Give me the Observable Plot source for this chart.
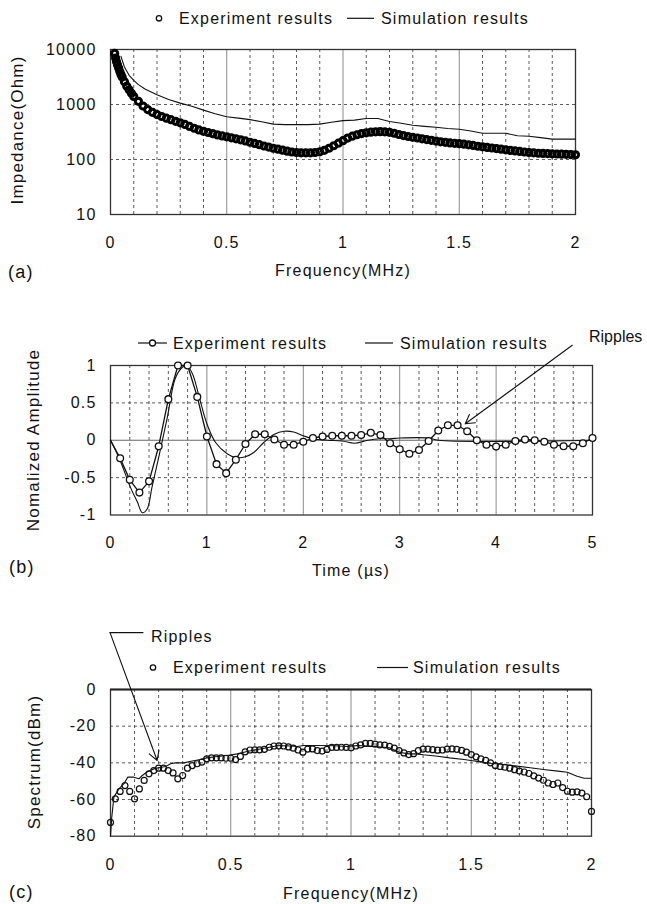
<!DOCTYPE html>
<html>
<head>
<meta charset="utf-8">
<script src="https://cdn.jsdelivr.net/npm/d3@7"></script>
<script src="https://cdn.jsdelivr.net/npm/@observablehq/plot@0.6"></script>
<style>
  html, body { margin: 0; padding: 0; background: #fff; }
  #page { position: relative; width: 647px; height: 904px; overflow: hidden; background: #fff; }
  #page > svg { position: absolute; left: 0; }
  #overlay { position: absolute; left: 0; top: 0; pointer-events: none; }
</style>
</head>
<body>
<div id="page"></div>
<script>
// ---------- (a) impedance vs frequency ----------
const freqA_exp = [0.018,0.022,0.026,0.03,0.035,0.04,0.045,0.05,0.06,0.07,0.08,0.09,0.1,
  0.12,0.14,0.16,0.18,0.2,0.22,0.24,0.26,0.28,0.3,0.32,0.34,0.36,0.38,0.4,0.42,0.44,0.46,0.48,
  0.5,0.52,0.54,0.56,0.58,0.6,0.62,0.64,0.66,0.68,0.7,0.72,0.74,0.76,0.78,0.8,0.82,0.84,0.86,0.88,
  0.9,0.92,0.94,0.96,0.98,1,1.02,1.04,1.06,1.08,1.1,1.12,1.14,1.16,1.18,1.2,1.22,1.24,1.26,1.28,
  1.3,1.32,1.34,1.36,1.38,1.4,1.42,1.44,1.46,1.48,1.5,1.52,1.54,1.56,1.58,1.6,1.62,1.64,1.66,1.68,
  1.7,1.72,1.74,1.76,1.78,1.8,1.82,1.84,1.86,1.88,1.9,1.92,1.94,1.96,1.98,2];
const impA_exp = [8500,7000,6000,5300,4600,4000,3500,3150,2600,2150,1850,1600,1400,
  1140,940,810,720,655,605,565,530,495,465,435,400,370,345,325,310,295,280,268,
  258,248,238,228,218,206,196,186,176,168,160,154,148,142,137,134,132,132,132,134,
  138,147,160,178,198,220,245,265,282,296,306,314,318,320,318,312,300,285,272,262,
  254,246,238,230,223,216,210,205,200,197,194,190,185,180,174,170,166,162,158,154,
  150,146,143,140,137,134,132,130,129,128,127,126,125,124,123,122];
const freqA_sim = [0.045,0.06,0.08,0.1,0.12,0.15,0.2,0.25,0.3,0.35,0.4,0.45,0.5,0.55,0.6,0.65,
  0.7,0.75,0.8,0.85,0.9,0.95,1,1.05,1.1,1.15,1.2,1.25,1.3,1.35,1.4,1.45,1.5,1.55,1.6,1.65,1.7,
  1.75,1.8,1.85,1.9,1.95,2];
const impA_sim = [7500,4800,3400,2750,2300,1900,1500,1230,1060,930,790,680,600,565,530,485,
  440,430,430,430,440,475,510,520,555,555,490,455,420,400,385,365,355,330,300,300,300,
  270,265,250,235,235,235];

// ---------- (b) normalized amplitude vs time ----------
const timeB_exp = [0,0.1,0.2,0.3,0.4,0.5,0.6,0.7,0.8,0.9,1,1.1,1.2,1.3,1.4,1.5,1.6,1.7,1.8,1.9,
  2,2.1,2.2,2.3,2.4,2.5,2.6,2.7,2.8,2.9,3,3.1,3.2,3.3,3.4,3.5,3.6,3.7,3.8,3.9,
  4,4.1,4.2,4.3,4.4,4.5,4.6,4.7,4.8,4.9,5];
const ampB_exp = [0,-0.24,-0.53,-0.7,-0.55,-0.08,0.55,1,1,0.58,0.05,-0.32,-0.44,-0.26,-0.05,0.08,0.08,0.01,-0.06,-0.06,
  -0.02,0.03,0.05,0.06,0.06,0.06,0.07,0.1,0.07,-0.04,-0.12,-0.18,-0.13,-0.01,0.13,0.2,0.2,0.12,0,-0.06,
  -0.085,-0.06,-0.01,0.01,0,-0.02,-0.06,-0.08,-0.08,-0.04,0.03];
const timeB_sim = [0,0.1,0.2,0.28,0.33,0.38,0.43,0.5,0.59,0.67,0.74,0.79,0.85,0.92,1,1.09,1.21,1.3,
  1.4,1.49,1.59,1.7,1.8,1.9,2,2.1,2.25,2.4,2.53,2.67,2.8,2.9,3,3.3,3.4,5];
const ampB_sim = [0,-0.27,-0.61,-0.83,-0.97,-0.92,-0.63,-0.23,0.31,0.82,0.97,1,0.89,0.58,0.22,-0.03,-0.18,-0.23,
  -0.22,-0.16,-0.03,0.08,0.12,0.11,0.06,0.02,0,-0.01,-0.04,0,0.02,0.02,0.03,0.03,0,0];

// ---------- (c) spectrum vs frequency ----------
const freqC_exp = [0,0.02,0.04,0.06,0.08,0.1,0.12,0.14,0.16,0.18,0.2,0.22,0.24,0.26,0.28,0.3,0.32,0.34,0.36,0.38,
  0.4,0.42,0.44,0.46,0.48,0.5,0.52,0.54,0.56,0.58,0.6,0.62,0.64,0.66,0.68,0.7,0.72,0.74,0.76,0.78,
  0.8,0.82,0.84,0.86,0.88,0.9,0.92,0.94,0.96,0.98,1,1.02,1.04,1.06,1.08,1.1,1.12,1.14,1.16,1.18,
  1.2,1.22,1.24,1.26,1.28,1.3,1.32,1.34,1.36,1.38,1.4,1.42,1.44,1.46,1.48,1.5,1.52,1.54,1.56,1.58,
  1.6,1.62,1.64,1.66,1.68,1.7,1.72,1.74,1.76,1.78,1.8,1.82,1.84,1.86,1.88,1.9,1.92,1.94,1.96,1.98,2];
const specC_exp = [-72.5,-59.6,-55.6,-52.4,-55.6,-59.6,-54.2,-49.6,-46,-44.2,-42.9,-42.9,-44.2,-45.5,-48.7,-46.9,-42.9,-41.5,-40.5,-39.6,
  -37.8,-37.3,-37.3,-37.3,-37.5,-37.5,-38.2,-36.5,-34,-33,-32.9,-32.9,-32.6,-31.5,-30.8,-30.7,-30.8,-31.3,-32,-33,
  -34.2,-32.5,-32.4,-33.3,-33.6,-32.7,-31.6,-31.6,-31.5,-31.6,-31.8,-30.8,-30.2,-29.4,-29.4,-29.8,-30.2,-30.3,-31,-32,
  -33.3,-34.6,-35.5,-35,-33.3,-32.5,-32.5,-32.8,-33.1,-33,-32.5,-32.4,-32.6,-33.2,-34.2,-35.5,-36.7,-37.8,-38.7,-40,
  -41.5,-42,-42.4,-42.9,-43.7,-44.5,-45,-45.8,-47.1,-48.3,-49.5,-51,-51.8,-51,-53.5,-55.5,-56,-55.8,-56.5,-58.5,-66.5];
const freqC_sim = [0,0.005,0.014,0.035,0.055,0.072,0.097,0.118,0.132,0.152,0.18,0.2,0.229,0.25,0.27,0.305,0.34,0.374,
  0.4,0.444,0.485,0.527,0.568,0.61,0.651,0.693,0.734,0.776,0.804,0.859,0.93,0.984,1.026,1.1,1.16,1.2,1.24,1.27,
  1.3,1.36,1.41,1.47,1.52,1.58,1.63,1.69,1.745,1.8,1.86,1.9,1.94,1.97,2];
const specC_sim = [-80,-70,-58.7,-54.2,-51.5,-47.8,-47.8,-48.7,-46.9,-45,-43.3,-42.7,-42,-40.5,-40,-40,-39,-38.2,
  -37.3,-36.5,-36,-35.1,-33.8,-32.7,-31.8,-30.7,-30.7,-31.1,-30.5,-30.5,-30.7,-31.1,-30.5,-31.1,-31.8,-34.2,-35.1,-35.1,
  -35.6,-36.4,-37.3,-38.2,-39.1,-40.2,-40.9,-41.8,-42.7,-43.6,-44.5,-45.1,-47.3,-48.4,-48.4];

// ---------- ticks and grid positions ----------
const freqTicks = [0, 0.5, 1, 1.5, 2];
const freqGridMajor = [0.5, 1, 1.5];
const freqGridMinor = [0.1,0.2,0.3,0.4,0.6,0.7,0.8,0.9,1.1,1.2,1.3,1.4,1.6,1.7,1.8,1.9];
const impTicks = [10, 100, 1000, 10000];
const impGrid = [100, 1000];
const timeTicks = [0, 1, 2, 3, 4, 5];
const timeGridMajor = [1, 2, 3, 4];
const timeGridMinor = [0.2,0.4,0.6,0.8,1.2,1.4,1.6,1.8,2.2,2.4,2.6,2.8,3.2,3.4,3.6,3.8,4.2,4.4,4.6,4.8];
const ampTicks = [-1, -0.5, 0, 0.5, 1];
const ampGrid = [-0.5, 0.5];
const specTicks = [-80, -60, -40, -20, 0];
const specGrid = [-60, -40, -20];

// "Ripples" call-outs, in data units of their panels
const ripplesB = [{x1: 4.79, y1: 1.27, x2: 3.68, y2: 0.22}];
const ripplesC = [{x1: -0.002, y1: 31, x2: 0.194, y2: -38.7}];
const ripplesCLead = [{x: -0.002, y: 31}, {x: 0.135, y: 31}];

const FONT = '"Liberation Sans", Arial, Helvetica, sans-serif';
const INK = "#111";
const toRows = (xs, ys) => xs.map((x, i) => ({x, y: ys[i]}));
const fmt = d => String(d);

const baseStyle = {fontFamily: FONT, fontSize: "16px", letterSpacing: "1.2px", color: INK, background: "transparent"};
const dashed = {stroke: "#333", strokeDasharray: "3,3", strokeWidth: 0.8};
const solidGrid = {stroke: "#8a8a8a", strokeWidth: 1};

function axes(xt, yt) {
  return [
    Plot.axisX(xt, {tickSize: 0, tickPadding: 22, tickFormat: fmt, label: null, fontSize: 16}),
    Plot.axisY(yt, {tickSize: 0, tickPadding: 14, tickFormat: fmt, label: null, fontSize: 16})
  ];
}

const page = document.getElementById("page");

// (a)
const plotA = Plot.plot({
  width: 647, height: 262,
  marginLeft: 110, marginRight: 72, marginTop: 49, marginBottom: 48,
  style: baseStyle,
  x: {domain: [0, 2]},
  y: {type: "log", domain: [10, 10000]},
  marks: [
    Plot.ruleX(freqGridMinor, dashed),
    Plot.ruleX(freqGridMajor, solidGrid),
    Plot.ruleY(impGrid, dashed),
    Plot.frame({stroke: "#333", strokeWidth: 1.3}),
    ...axes(freqTicks, impTicks),
    Plot.line(toRows(freqA_sim, impA_sim), {x: "x", y: "y", stroke: INK, strokeWidth: 1.1}),
    Plot.dot(toRows(freqA_exp, impA_exp), {x: "x", y: "y", r: 3.1, stroke: "#000", strokeWidth: 3, fill: "none"})
  ]
});
plotA.style.top = "0px";
page.appendChild(plotA);

// (b)
const expB = toRows(timeB_exp, ampB_exp);
const plotB = Plot.plot({
  width: 647, height: 260,
  marginLeft: 110, marginRight: 55, marginTop: 65, marginBottom: 45.5,
  style: baseStyle,
  x: {domain: [0, 5]},
  y: {domain: [-1, 1]},
  marks: [
    Plot.ruleX(timeGridMinor, dashed),
    Plot.ruleX(timeGridMajor, solidGrid),
    Plot.ruleY(ampGrid, dashed),
    Plot.ruleY([0], {stroke: "#666", strokeWidth: 1.1}),
    Plot.frame({stroke: "#333", strokeWidth: 1.3}),
    ...axes(timeTicks, ampTicks),
    Plot.line(toRows(timeB_sim, ampB_sim), {x: "x", y: "y", stroke: INK, strokeWidth: 1.1, curve: "catmull-rom"}),
    Plot.line(expB, {x: "x", y: "y", stroke: INK, strokeWidth: 1.3}),
    Plot.dot(expB.filter(d => d.x > 0), {x: "x", y: "y", r: 3.4, stroke: INK, strokeWidth: 1.3, fill: "white"}),
    Plot.arrow(ripplesB, {x1: "x1", y1: "y1", x2: "x2", y2: "y2", stroke: INK, strokeWidth: 1.1, headLength: 14})
  ]
});
plotB.style.top = "300px";
page.appendChild(plotB);

// (c)
const plotC = Plot.plot({
  width: 647, height: 280,
  marginLeft: 110, marginRight: 56, marginTop: 89, marginBottom: 44.3,
  style: baseStyle,
  x: {domain: [0, 2]},
  y: {domain: [-80, 0]},
  marks: [
    Plot.ruleX(freqGridMinor, dashed),
    Plot.ruleX(freqGridMajor, solidGrid),
    Plot.ruleY(specGrid, dashed),
    Plot.frame({stroke: "#333", strokeWidth: 1.3}),
    Plot.ruleY([0], {stroke: "#222", strokeWidth: 2}),
    ...axes(freqTicks, specTicks),
    Plot.line(toRows(freqC_sim, specC_sim), {x: "x", y: "y", stroke: INK, strokeWidth: 1.1}),
    Plot.dot(toRows(freqC_exp, specC_exp), {x: "x", y: "y", r: 3, stroke: INK, strokeWidth: 1.2, fill: "none"}),
    Plot.line(ripplesCLead, {x: "x", y: "y", stroke: INK, strokeWidth: 1.1}),
    Plot.arrow(ripplesC, {x1: "x1", y1: "y1", x2: "x2", y2: "y2", stroke: INK, strokeWidth: 1.1, headLength: 14})
  ]
});
plotC.style.top = "600px";
page.appendChild(plotC);

// Legends, panel letters and axis titles
const txt = (s, x, y, o = {}) =>
  `<text x="${x}" y="${y}" font-size="${o.size || 16}" text-anchor="${o.anchor || "start"}"` +
  (o.spacing != null ? ` letter-spacing="${o.spacing}"` : "") +
  (o.rotate ? ` transform="rotate(-90 ${x} ${y})"` : "") + `>${s}</text>`;
const ring = (cx, cy, r = 2.7) => `<circle cx="${cx}" cy="${cy}" r="${r}" fill="white" stroke="${INK}" stroke-width="1.3"/>`;
const seg = (x1, x2, y) => `<line x1="${x1}" x2="${x2}" y1="${y}" y2="${y}" stroke="${INK}" stroke-width="1.2"/>`;

const overlay = `
<svg id="overlay" width="647" height="904" font-family='${FONT}' fill="${INK}" style="letter-spacing:1.2px">
  ${ring(159, 18.3)}
  ${txt("Experiment results", 179, 24.2)}
  ${seg(347, 374, 18.3)}
  ${txt("Simulation results", 381, 24.2)}
  ${txt("Impedance(Ohm)", 22.5, 130, {anchor: "middle", rotate: true, size: 17})}
  ${txt("(a)", 8, 278, {size: 18})}
  ${txt("Frequency(MHz)", 343, 276, {anchor: "middle"})}

  ${seg(138, 167, 343)}
  ${ring(152.5, 343, 3)}
  ${txt("Experiment results", 173, 348.7)}
  ${seg(365, 393, 343)}
  ${txt("Simulation results", 400, 348.7)}
  ${txt("Ripples", 589, 342.4, {spacing: 0})}
  ${txt("Nomalized Amplitude", 39, 440, {anchor: "middle", rotate: true, size: 17})}
  ${txt("(b)", 9, 573, {size: 18})}
  ${txt("Time (µs)", 351, 575.5, {anchor: "middle"})}

  ${txt("Ripples", 151, 641.7)}
  ${ring(153, 667.5)}
  ${txt("Experiment results", 173, 673)}
  ${seg(377, 408, 667.5)}
  ${txt("Simulation results", 413, 673)}
  ${txt("Spectrum(dBm)", 40, 762, {anchor: "middle", rotate: true, size: 17})}
  ${txt("(c)", 9, 897.5, {size: 18})}
  ${txt("Frequency(MHz)", 351, 898.5, {anchor: "middle"})}
</svg>`;
page.insertAdjacentHTML("beforeend", overlay);
</script>
</body>
</html>
